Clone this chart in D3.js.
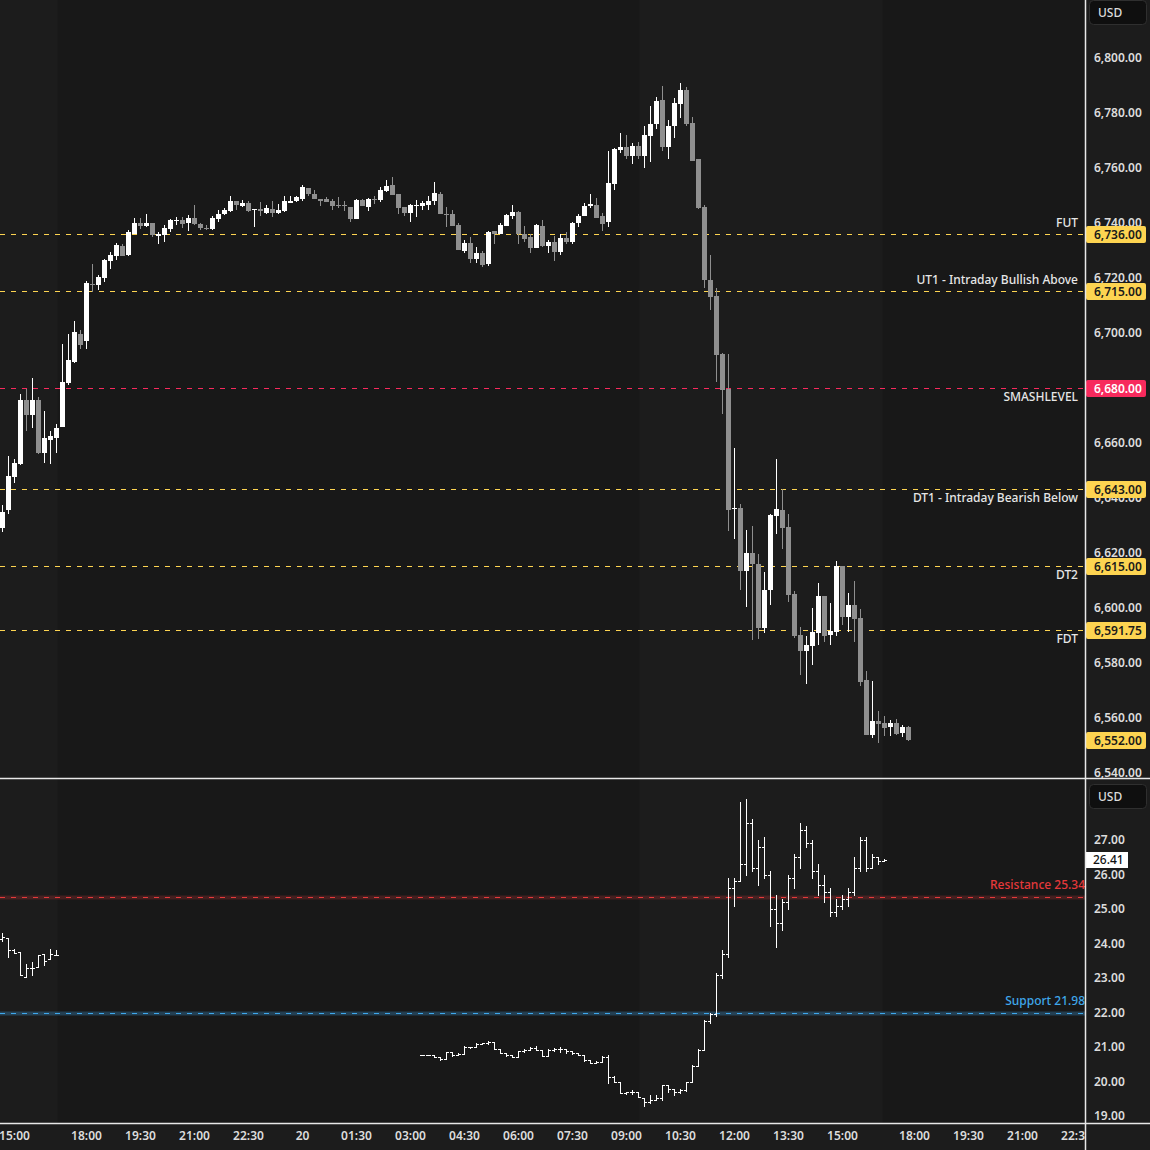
<!DOCTYPE html>
<html>
<head>
<meta charset="utf-8">
<script src="https://cdn.jsdelivr.net/npm/d3@7"></script>
<style>
html, body { margin: 0; padding: 0; background: #1c1c1c; }
svg { display: block; }
text { font-family: "Noto Sans", sans-serif; }
</style>
</head>
<body>
<div id="chart"></div>
<script>
// ---- data -------------------------------------------------------------
// bar index 0 = 15:00 on day 1, 10 minute bars, 17:00-18:00 break skipped
var esFirstIdx = -2;
// ES futures, 10m candles [open, high, low, close]
var esBars = [
  [6629, 6637.25, 6627.5, 6634.75], [6635.5, 6655, 6634, 6647.75],
  [6647.5, 6654, 6645.25, 6652.5], [6652.25, 6677.5, 6651.75, 6675.5],
  [6675.5, 6679.5, 6664.25, 6670], [6670, 6683.5, 6665.25, 6675.5],
  [6675.5, 6676.5, 6655.75, 6656.25], [6656.25, 6671.5, 6652.5, 6661.5],
  [6661, 6664.25, 6652.25, 6662.5], [6661.5, 6666.75, 6656.25, 6665.25],
  [6665.5, 6695.75, 6665.5, 6682], [6681.5, 6699.5, 6681, 6690],
  [6689.25, 6704.25, 6689, 6700.25], [6699.5, 6701, 6694, 6695.5],
  [6697, 6718.75, 6694, 6718], [6717.75, 6725, 6714.75, 6717.5],
  [6717.25, 6721, 6715.5, 6720.25], [6719.75, 6726.75, 6718.5, 6726.5],
  [6726, 6729.25, 6723, 6728.25], [6727.75, 6732.5, 6726.5, 6731.75],
  [6731.5, 6732.25, 6727.75, 6727.75], [6728.25, 6737.25, 6727.75, 6736.5],
  [6735.75, 6741.5, 6735.75, 6739.75], [6739.75, 6741.5, 6737.5, 6738.75],
  [6738.75, 6743, 6738.5, 6739.75], [6739.75, 6739.75, 6734.75, 6735.5],
  [6735, 6736.5, 6732.25, 6735.75], [6735.5, 6739, 6733, 6738],
  [6737.5, 6741.25, 6736.5, 6741], [6740.5, 6742, 6739, 6741],
  [6741, 6742, 6738, 6739.5], [6739.75, 6742.75, 6737, 6741.5],
  [6741.5, 6746.5, 6739, 6739.5], [6739.5, 6739.75, 6737.25, 6738],
  [6738, 6739, 6737.25, 6737.75], [6737.5, 6742.5, 6737.25, 6741.5],
  [6741.25, 6744.5, 6740.25, 6743], [6743, 6745.25, 6742.75, 6744.5],
  [6744.25, 6749.5, 6744, 6747.75], [6747.75, 6747.75, 6744.5, 6746.5],
  [6746, 6748.25, 6745.75, 6747], [6747, 6747.75, 6743.75, 6744.25],
  [6744.5, 6745, 6738.5, 6744.75], [6744.75, 6747.5, 6742.5, 6744.25],
  [6743.5, 6746.5, 6743, 6745.25], [6745, 6747.75, 6742, 6743.5],
  [6743.5, 6746.75, 6743, 6744.5], [6744.25, 6749.5, 6743.75, 6747.75],
  [6747, 6749.5, 6747, 6747.75], [6747.75, 6749.5, 6747.5, 6749.25],
  [6748.5, 6753.5, 6747.75, 6753], [6752.5, 6752.5, 6749.5, 6750.5],
  [6750.5, 6751.75, 6748.5, 6748.5], [6748.5, 6748.5, 6746, 6747.75],
  [6748.5, 6749.25, 6747.5, 6747.5], [6747.75, 6748.5, 6744.5, 6746],
  [6746.5, 6749.25, 6745.25, 6746], [6746.25, 6747.75, 6744.25, 6746],
  [6745.5, 6745.5, 6740.25, 6741.25], [6741.25, 6748.5, 6741.25, 6748.25],
  [6748.25, 6748.5, 6746, 6746], [6745.5, 6749, 6744.25, 6748.5],
  [6748.5, 6749.5, 6746.75, 6748.25], [6748.25, 6753, 6747.5, 6751.75],
  [6751.5, 6755.5, 6751, 6753.25], [6753.5, 6756.5, 6750, 6750],
  [6750.5, 6750.5, 6743, 6745.25], [6745.5, 6745.5, 6742.5, 6743.5],
  [6743.5, 6746.75, 6740.25, 6746.5], [6746.25, 6748.25, 6742, 6746.5],
  [6746, 6747.75, 6744.5, 6747], [6746.5, 6749.5, 6744.5, 6747.75],
  [6747.75, 6754.75, 6746.5, 6750.75], [6750.5, 6751, 6743, 6743],
  [6743.25, 6745.5, 6738.5, 6743], [6743, 6744.5, 6738.75, 6738.75],
  [6739, 6739.75, 6730, 6730], [6729.5, 6733.5, 6729, 6732.5],
  [6732.5, 6734.75, 6725.25, 6726.75], [6726.75, 6731, 6725.25, 6729],
  [6729, 6729.5, 6723.75, 6724.5], [6725, 6737, 6724.25, 6736.5],
  [6737, 6737, 6732.25, 6735.75], [6735.75, 6739.75, 6735.75, 6739],
  [6738.75, 6743, 6738.75, 6742.75], [6742.5, 6746.5, 6741.25, 6743.75],
  [6743.75, 6744.25, 6732.25, 6735.75], [6735.75, 6738.75, 6733, 6734],
  [6734.75, 6735.75, 6729, 6730.75], [6730.75, 6739.5, 6730.75, 6739],
  [6738.75, 6741, 6731, 6731.5], [6731.5, 6733.5, 6729, 6733],
  [6733, 6735, 6726, 6729.25], [6729.25, 6735.75, 6728.25, 6734.5],
  [6734.5, 6736.5, 6732.25, 6733], [6733, 6740.25, 6732.25, 6739.75],
  [6739.75, 6743, 6738.5, 6742.5], [6742.5, 6747, 6742.5, 6746],
  [6746, 6750.5, 6745.25, 6746.75], [6746.5, 6749, 6741.5, 6741.5],
  [6742.5, 6743.5, 6737, 6739.5], [6740.25, 6766, 6738.5, 6754.5],
  [6754, 6767, 6751.75, 6766.75], [6766.5, 6772.5, 6765.25, 6767.5],
  [6767.5, 6771.75, 6763, 6764.25], [6764.25, 6769, 6761.25, 6767.75],
  [6767.75, 6769.25, 6763, 6764.25], [6764.25, 6775, 6759.75, 6771.75],
  [6771.5, 6782.5, 6762, 6775.75], [6775.75, 6785.5, 6774, 6784.25],
  [6784.5, 6789.5, 6766, 6767.5], [6767.5, 6777.25, 6763, 6775],
  [6775, 6785.25, 6770.75, 6783.5], [6783, 6790.75, 6778, 6788.25],
  [6788.25, 6789.25, 6775, 6775.75], [6776.25, 6778.5, 6762.5, 6762.5],
  [6763, 6763, 6745, 6745.25], [6745.5, 6746.5, 6716.25, 6719],
  [6719, 6728.25, 6708.25, 6713], [6713.25, 6716.25, 6682, 6691.75],
  [6692.25, 6692.5, 6670.5, 6679], [6679.5, 6692.25, 6627.75, 6635.5],
  [6636, 6658, 6625, 6636.25], [6636.25, 6637.5, 6606.5, 6613.25],
  [6613.25, 6628.25, 6600.25, 6619.75], [6619.75, 6629.5, 6588.25, 6615.75],
  [6615.75, 6619.5, 6588.5, 6592.5], [6592.5, 6613, 6590.75, 6606.5],
  [6606.5, 6634, 6601, 6633.5], [6633.25, 6654, 6626.75, 6635.75],
  [6635.5, 6643, 6621.25, 6629], [6629.25, 6634, 6602, 6604.5],
  [6604.75, 6606, 6589, 6589.5], [6590, 6593, 6575.5, 6584.25],
  [6584.25, 6589.5, 6572.25, 6586.5], [6586, 6599.75, 6579, 6591],
  [6590.75, 6609, 6586.5, 6604.25], [6604.25, 6604.25, 6587.5, 6589.5],
  [6590, 6601.5, 6586.5, 6591.5], [6591, 6617, 6589.5, 6615],
  [6615, 6615, 6593.5, 6596.5], [6596.5, 6605.25, 6591, 6601],
  [6601, 6609.5, 6587.5, 6595.75], [6596.25, 6599.5, 6571.5, 6573],
  [6573.5, 6577, 6553.5, 6553.75], [6553.75, 6573.25, 6552.5, 6558.75],
  [6558.75, 6562.5, 6550.75, 6557.5], [6558, 6560.5, 6553.25, 6556.25],
  [6556.5, 6559, 6553.25, 6558], [6558, 6559.5, 6553.5, 6554],
  [6554.5, 6557.25, 6553, 6556.5], [6556.5, 6557, 6551.5, 6552]
];

// VIX, 10m OHLC bars, two trading segments
var vixFirstIdxA = -2;
var vixBarsA = [
  [24.13, 24.30, 24.07, 24.19], [24.16, 24.16, 23.61, 23.81],
  [23.81, 23.84, 23.72, 23.72], [23.75, 23.75, 23.09, 23.09],
  [23.03, 23.41, 23.03, 23.29], [23.29, 23.46, 23.09, 23.29],
  [23.32, 23.67, 23.32, 23.67], [23.70, 23.70, 23.38, 23.49],
  [23.55, 23.84, 23.55, 23.70], [23.67, 23.81, 23.67, 23.67]
];
var vixFirstIdxB = 68;
var vixBarsB = [
  [20.78, 20.78, 20.78, 20.78], [20.78, 20.78, 20.78, 20.78],
  [20.78, 20.78, 20.72, 20.72], [20.70, 20.72, 20.62, 20.64],
  [20.64, 20.86, 20.64, 20.86], [20.85, 20.86, 20.74, 20.78],
  [20.78, 20.82, 20.78, 20.80], [20.80, 21.03, 20.80, 21.01],
  [21.01, 21.01, 20.97, 21.00], [21.00, 21.12, 21.00, 21.10],
  [21.10, 21.12, 21.09, 21.12], [21.12, 21.18, 21.10, 21.14],
  [21.14, 21.14, 20.95, 20.95], [20.95, 20.95, 20.82, 20.82],
  [20.82, 20.82, 20.74, 20.76], [20.76, 20.76, 20.70, 20.72],
  [20.72, 20.89, 20.72, 20.89], [20.89, 20.95, 20.85, 20.91],
  [20.91, 20.99, 20.91, 20.97], [20.97, 21.03, 20.91, 20.91],
  [20.91, 20.91, 20.74, 20.74], [20.74, 20.93, 20.74, 20.91],
  [20.91, 20.97, 20.87, 20.93], [20.93, 20.99, 20.85, 20.93],
  [20.93, 20.95, 20.82, 20.89], [20.89, 20.89, 20.80, 20.82],
  [20.82, 20.82, 20.76, 20.78], [20.78, 20.78, 20.60, 20.62],
  [20.62, 20.62, 20.55, 20.55], [20.55, 20.60, 20.55, 20.57],
  [20.57, 20.74, 20.57, 20.70], [20.70, 20.78, 19.95, 20.14],
  [20.14, 20.16, 19.98, 19.98], [19.98, 19.98, 19.66, 19.66],
  [19.66, 19.71, 19.64, 19.70], [19.70, 19.75, 19.64, 19.71],
  [19.71, 19.71, 19.56, 19.56], [19.52, 19.52, 19.29, 19.41],
  [19.41, 19.62, 19.38, 19.46], [19.46, 19.62, 19.46, 19.52],
  [19.52, 19.91, 19.46, 19.89], [19.89, 19.89, 19.71, 19.77],
  [19.77, 19.79, 19.60, 19.71], [19.71, 19.77, 19.68, 19.75],
  [19.75, 20.00, 19.73, 19.98], [19.98, 20.47, 19.98, 20.45],
  [20.45, 20.93, 20.45, 20.91], [20.91, 21.78, 20.91, 21.74],
  [21.74, 22.00, 21.70, 21.95], [21.95, 23.15, 21.90, 23.10],
  [23.10, 23.80, 23.00, 23.70], [23.70, 25.90, 23.60, 25.60],
  [25.60, 25.90, 25.10, 25.80], [25.80, 28.10, 25.80, 26.30],
  [26.30, 28.20, 26.00, 27.50], [27.50, 27.60, 26.10, 26.20],
  [26.20, 27.00, 25.70, 26.80], [26.80, 27.10, 25.90, 26.00],
  [26.00, 26.10, 24.50, 25.00], [25.00, 25.40, 23.90, 24.60],
  [24.60, 25.30, 24.40, 25.20], [25.20, 26.00, 25.00, 25.90],
  [25.90, 26.60, 25.60, 26.50], [26.50, 27.50, 26.20, 27.30],
  [27.30, 27.40, 26.80, 26.90], [26.90, 27.00, 25.90, 26.10],
  [26.10, 26.30, 25.40, 25.70], [25.70, 26.00, 25.20, 25.50],
  [25.50, 25.60, 24.80, 24.90], [24.90, 25.30, 24.80, 25.10],
  [25.10, 25.40, 25.00, 25.30], [25.30, 25.60, 25.10, 25.50],
  [25.50, 26.50, 25.40, 26.20], [26.20, 27.10, 26.10, 27.00],
  [27.00, 27.10, 26.10, 26.20], [26.20, 26.60, 26.20, 26.50],
  [26.50, 26.50, 26.30, 26.40], [26.40, 26.45, 26.40, 26.41]
];

// key levels on the ES pane
var levelNames = ["FUT", "UT1 - Intraday Bullish Above", "SMASHLEVEL",
  "DT1 - Intraday Bearish Below", "DT2", "FDT"];
var levelValues = [6736, 6715, 6680, 6643, 6615, 6591.75];
var levelSide = ["up", "up", "smash", "down", "down", "down"];

// VIX levels
var vixLevelNames = ["Resistance", "Support"];
var vixLevelValues = [25.34, 21.98];

// regular session ranges (bar index)
var sessionRanges = [[-20, 7.3], [104.2, 144.8]];

// time axis
var timeTickIdx = [0, 12, 21, 30, 39, 48, 57, 66, 75, 84, 93, 102, 111, 120, 129, 138, 150, 159, 168, 177];
var timeTickLabels = ["15:00", "18:00", "19:30", "21:00", "22:30", "20", "01:30", "03:00", "04:30",
  "06:00", "07:30", "09:00", "10:30", "12:00", "13:30", "15:00", "18:00", "19:30", "21:00", "22:30"];

var esTicks = d3.range(6540, 6801, 20);
var vixTicks = d3.range(19, 28, 1);

// ---- layout -------------------------------------------------------------
var W = 1150, H = 1150;
var plotRight = 1085;
var topBottom = 778, botTop = 779, axisTop = 1123;

var colUp = "#ffffff", colDown = "#8f8f8f";
var colYellow = "#fdd451", colRed = "#f72a5d";
var textCol = "#dcdcdc";

var svg = d3.select("#chart").append("svg")
    .attr("width", W).attr("height", H);

svg.append("rect").attr("width", W).attr("height", H).attr("fill", "#1c1c1c");

var x = d3.scaleLinear().domain([0, 150]).range([14, 914]);
var yEs = d3.scaleLinear().domain([6540, 6800]).range([772.5, 57.5]);
var yVix = d3.scaleLinear().domain([19, 27]).range([1116, 840]);

var defs = svg.append("defs");
defs.append("clipPath").attr("id", "clipTop")
  .append("rect").attr("x", 0).attr("y", 0).attr("width", plotRight).attr("height", topBottom);
defs.append("clipPath").attr("id", "clipBot")
  .append("rect").attr("x", 0).attr("y", botTop).attr("width", plotRight).attr("height", axisTop - botTop);
defs.append("clipPath").attr("id", "clipTime")
  .append("rect").attr("x", 0).attr("y", axisTop).attr("width", plotRight).attr("height", H - axisTop);

// plot area backgrounds: overnight darker, regular session lighter
svg.append("rect").attr("x", 0).attr("y", 0).attr("width", plotRight).attr("height", axisTop)
  .attr("fill", "#181818");
svg.append("g").selectAll("rect").data(sessionRanges).enter().append("rect")
  .attr("x", function (d) { return Math.max(0, x(d[0])); })
  .attr("width", function (d) { return x(d[1]) - Math.max(0, x(d[0])); })
  .attr("y", 0).attr("height", axisTop)
  .attr("fill", "#1c1c1c");

// ---- ES candles ----
var esData = esBars.map(function (b, k) {
  return { i: esFirstIdx + k, o: b[0], h: b[1], l: b[2], c: b[3] };
});

var gTop = svg.append("g").attr("clip-path", "url(#clipTop)");

// level lines (drawn under candles)
var levels = levelNames.map(function (n, k) {
  return { name: n, v: levelValues[k], side: levelSide[k] };
});
gTop.selectAll(".lvl").data(levels).enter().append("line")
  .attr("x1", 0).attr("x2", plotRight)
  .attr("y1", function (d) { return Math.round(yEs(d.v)) + 0.5; })
  .attr("y2", function (d) { return Math.round(yEs(d.v)) + 0.5; })
  .attr("stroke", function (d) { return d.side === "smash" ? colRed : colYellow; })
  .attr("stroke-width", 1)
  .attr("stroke-dasharray", "5,6");

var candles = gTop.selectAll(".candle").data(esData).enter().append("g");
candles.append("line")
  .attr("x1", function (d) { return Math.round(x(d.i)) + 0.5; })
  .attr("x2", function (d) { return Math.round(x(d.i)) + 0.5; })
  .attr("y1", function (d) { return Math.round(yEs(d.h)); })
  .attr("y2", function (d) { return Math.round(yEs(d.l)); })
  .attr("stroke", function (d) { return d.c >= d.o ? colUp : colDown; })
  .attr("stroke-width", 1);
candles.append("rect")
  .attr("x", function (d) { return Math.round(x(d.i)) - 2; })
  .attr("width", 5)
  .attr("y", function (d) { return Math.round(yEs(Math.max(d.o, d.c))); })
  .attr("height", function (d) {
    return Math.max(1, Math.round(yEs(Math.min(d.o, d.c))) - Math.round(yEs(Math.max(d.o, d.c))));
  })
  .attr("fill", function (d) { return d.c >= d.o ? colUp : colDown; });

// level labels
gTop.selectAll(".lvlText").data(levels).enter().append("text")
  .attr("x", 1078)
  .attr("y", function (d) { return yEs(d.v) + (d.side === "up" ? -11 : 9); })
  .attr("dy", "0.35em")
  .attr("text-anchor", "end")
  .attr("fill", "#e6e6e6")
  .attr("font-size", 12)
  .attr("font-weight", 500)
  .text(function (d) { return d.name; });

// ---- VIX bars ----
var gBot = svg.append("g").attr("clip-path", "url(#clipBot)");

var vixLevels = vixLevelNames.map(function (n, k) { return { name: n, v: vixLevelValues[k] }; });
var vixCol = { Resistance: "#e5393b", Support: "#3fa7ea" };
var vixBand = { Resistance: "rgba(229,57,59,0.22)", Support: "rgba(63,167,234,0.28)" };

gBot.selectAll(".vband").data(vixLevels).enter().append("line")
  .attr("x1", 0).attr("x2", plotRight)
  .attr("y1", function (d) { return Math.round(yVix(d.v)) + 0.5; })
  .attr("y2", function (d) { return Math.round(yVix(d.v)) + 0.5; })
  .attr("stroke", function (d) { return vixBand[d.name]; })
  .attr("stroke-width", 4);
gBot.selectAll(".vlvl").data(vixLevels).enter().append("line")
  .attr("x1", 0).attr("x2", plotRight)
  .attr("y1", function (d) { return Math.round(yVix(d.v)) + 0.5; })
  .attr("y2", function (d) { return Math.round(yVix(d.v)) + 0.5; })
  .attr("stroke", function (d) { return vixCol[d.name]; })
  .attr("stroke-width", 1)
  .attr("stroke-dasharray", "5,6");

var vixData = vixBarsA.map(function (b, k) {
  return { i: vixFirstIdxA + k, o: b[0], h: b[1], l: b[2], c: b[3] };
}).concat(vixBarsB.map(function (b, k) {
  return { i: vixFirstIdxB + k, o: b[0], h: b[1], l: b[2], c: b[3] };
}));

var vbars = gBot.selectAll(".vbar").data(vixData).enter().append("g")
  .attr("stroke", "#ffffff").attr("stroke-width", 1);
vbars.append("line")
  .attr("x1", function (d) { return Math.round(x(d.i)) + 0.5; })
  .attr("x2", function (d) { return Math.round(x(d.i)) + 0.5; })
  .attr("y1", function (d) { return Math.round(yVix(d.h)); })
  .attr("y2", function (d) { return Math.round(yVix(d.l)) + 1; });
vbars.append("line")
  .attr("x1", function (d) { return Math.round(x(d.i)) - 2; })
  .attr("x2", function (d) { return Math.round(x(d.i)) + 1; })
  .attr("y1", function (d) { return Math.round(yVix(d.o)) + 0.5; })
  .attr("y2", function (d) { return Math.round(yVix(d.o)) + 0.5; });
vbars.append("line")
  .attr("x1", function (d) { return Math.round(x(d.i)); })
  .attr("x2", function (d) { return Math.round(x(d.i)) + 3; })
  .attr("y1", function (d) { return Math.round(yVix(d.c)) + 0.5; })
  .attr("y2", function (d) { return Math.round(yVix(d.c)) + 0.5; });

gBot.selectAll(".vtext").data(vixLevels).enter().append("text")
  .attr("x", plotRight)
  .attr("y", function (d) { return yVix(d.v) - 12; })
  .attr("dy", "0.35em")
  .attr("text-anchor", "end")
  .attr("fill", function (d) { return vixCol[d.name]; })
  .attr("font-size", 12)
  .attr("font-weight", 500)
  .text(function (d) { return d.name + " " + d.v.toFixed(2); });

// ---- axes ----
function styleAxis(g) {
  g.select(".domain").remove();
  g.selectAll("text")
    .attr("fill", textCol)
    .attr("font-size", 12)
    .attr("font-weight", 600)
    .attr("font-family", "\"Noto Sans\", sans-serif");
  g.selectAll("line").remove();
}

svg.append("g")
  .attr("transform", "translate(" + plotRight + ",0)")
  .call(d3.axisRight(yEs).tickValues(esTicks).tickSize(0).tickPadding(9).tickFormat(d3.format(",.2f")))
  .call(styleAxis)
  .selectAll("text").attr("text-anchor", "start");

svg.append("g")
  .attr("transform", "translate(" + plotRight + ",0)")
  .call(d3.axisRight(yVix).tickValues(vixTicks).tickSize(0).tickPadding(9).tickFormat(d3.format(".2f")))
  .call(styleAxis);

svg.append("g")
  .attr("clip-path", "url(#clipTime)")
  .append("g")
  .attr("transform", "translate(0," + axisTop + ")")
  .call(d3.axisBottom(x).tickValues(timeTickIdx).tickSize(0).tickPadding(8)
    .tickFormat(function (d, k) { return timeTickLabels[k]; }))
  .call(styleAxis);

// price boxes on the right axis
var boxes = levels.map(function (d) {
  return { v: d.v, fill: d.side === "smash" ? colRed : colYellow, txt: d.side === "smash" ? "#ffffff" : "#1a1a1a" };
});
boxes.push({ v: esData[esData.length - 1].c, fill: colYellow, txt: "#1a1a1a" });

var bx = svg.append("g").selectAll("g").data(boxes).enter().append("g");
bx.append("rect")
  .attr("x", plotRight + 1).attr("width", 60)
  .attr("y", function (d) { return Math.round(yEs(d.v)) - 8; })
  .attr("height", 17).attr("rx", 2)
  .attr("fill", function (d) { return d.fill; });
bx.append("text")
  .attr("x", plotRight + 9)
  .attr("y", function (d) { return Math.round(yEs(d.v)) + 0.5; })
  .attr("dy", "0.35em")
  .attr("fill", function (d) { return d.txt; })
  .attr("font-size", 12).attr("font-weight", 600)
  .text(function (d) { return d3.format(",.2f")(d.v); });

// last VIX value box
var lastVix = vixData[vixData.length - 1].c;
svg.append("rect")
  .attr("x", plotRight + 1).attr("width", 42)
  .attr("y", Math.round(yVix(lastVix)) - 8).attr("height", 16)
  .attr("fill", "#ffffff");
svg.append("text")
  .attr("x", plotRight + 8)
  .attr("y", Math.round(yVix(lastVix)))
  .attr("dy", "0.35em")
  .attr("fill", "#111111")
  .attr("font-size", 12).attr("font-weight", 500)
  .text(lastVix.toFixed(2));

// currency badges
[[0, 13], [784, 797]].forEach(function (p) {
  svg.append("rect")
    .attr("x", 1089.5).attr("y", p[0] + 0.5).attr("width", 57).attr("height", 24).attr("rx", 4)
    .attr("fill", "#0f0f0f").attr("stroke", "#2f2f2f");
  svg.append("text")
    .attr("x", 1098).attr("y", p[1]).attr("dy", "0.35em")
    .attr("fill", textCol).attr("font-size", 12).attr("font-weight", 500)
    .text("USD");
});

// pane separators
svg.append("line").attr("x1", plotRight + 0.5).attr("x2", plotRight + 0.5).attr("y1", 0).attr("y2", H)
  .attr("stroke", "#e8e8e8").attr("stroke-width", 1.5);
svg.append("line").attr("x1", 0).attr("x2", W).attr("y1", topBottom + 0.5).attr("y2", topBottom + 0.5)
  .attr("stroke", "#e8e8e8").attr("stroke-width", 1.5);
svg.append("line").attr("x1", 0).attr("x2", W).attr("y1", axisTop + 0.5).attr("y2", axisTop + 0.5)
  .attr("stroke", "#e8e8e8").attr("stroke-width", 1.5);
</script>
</body>
</html>
